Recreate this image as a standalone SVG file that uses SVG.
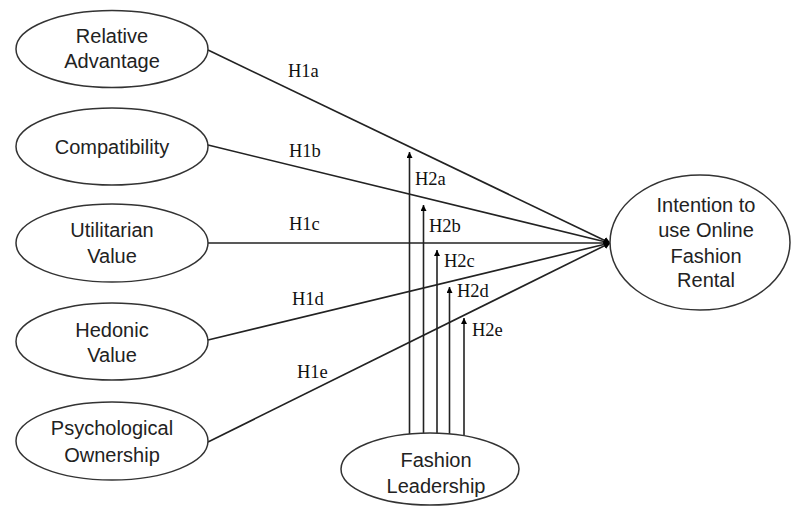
<svg xmlns="http://www.w3.org/2000/svg" width="791" height="507" viewBox="0 0 791 507">
<defs>
<marker id="ah" viewBox="0 0 10 10" refX="9" refY="5" markerWidth="7" markerHeight="7" markerUnits="userSpaceOnUse" orient="auto">
<path d="M0,0 L10,5 L0,10 z" fill="#000"/>
</marker>
<marker id="av" viewBox="0 0 10 10" refX="10" refY="5" markerWidth="7" markerHeight="6" markerUnits="userSpaceOnUse" orient="auto">
<path d="M0,0 L10,5 L0,10 z" fill="#000"/>
</marker>
</defs>
<style>
.n{fill:#fff;stroke:#333;stroke-width:1.5}
.t{font-family:"Liberation Sans",Arial,sans-serif;font-size:20px;fill:#222;text-anchor:middle}
.l{font-family:"Liberation Serif","Times New Roman",serif;font-size:18.5px;fill:#111}
.c{stroke:#222;stroke-width:1.6;fill:none}
</style>
<rect width="791" height="507" fill="#fff"/>
<g id="connectors">
<line class="c" x1="208" y1="50" x2="610" y2="243" marker-end="url(#ah)"/>
<line class="c" x1="208" y1="145" x2="610" y2="243" marker-end="url(#ah)"/>
<line class="c" x1="208" y1="243" x2="610" y2="243" marker-end="url(#ah)"/>
<line class="c" x1="208" y1="340" x2="610" y2="243" marker-end="url(#ah)"/>
<line class="c" x1="208" y1="442" x2="610" y2="243" marker-end="url(#ah)"/>
<line class="c" x1="409.5" y1="435" x2="409.5" y2="152" marker-end="url(#av)"/>
<line class="c" x1="423.5" y1="435" x2="423.5" y2="205" marker-end="url(#av)"/>
<line class="c" x1="437" y1="434" x2="437" y2="250" marker-end="url(#av)"/>
<line class="c" x1="449.5" y1="434" x2="449.5" y2="287" marker-end="url(#av)"/>
<line class="c" x1="464" y1="435" x2="464" y2="318" marker-end="url(#av)"/>
<text class="l" x="288" y="77">H1a</text>
<text class="l" x="289" y="157">H1b</text>
<text class="l" x="289" y="230">H1c</text>
<text class="l" x="292" y="305">H1d</text>
<text class="l" x="297" y="378">H1e</text>
<text class="l" x="415" y="185">H2a</text>
<text class="l" x="429" y="232">H2b</text>
<text class="l" x="444" y="267">H2c</text>
<text class="l" x="457" y="297">H2d</text>
<text class="l" x="472" y="336">H2e</text>
</g>
<g id="relative-advantage">
<ellipse class="n" cx="112" cy="49" rx="96" ry="38.5"/>
<text class="t" x="112" y="43">Relative</text>
<text class="t" x="112" y="68">Advantage</text>
</g>
<g id="compatibility">
<ellipse class="n" cx="112" cy="146.5" rx="96" ry="38.5"/>
<text class="t" x="112" y="154">Compatibility</text>
</g>
<g id="utilitarian-value">
<ellipse class="n" cx="112" cy="243" rx="96" ry="39"/>
<text class="t" x="112" y="237">Utilitarian</text>
<text class="t" x="112" y="263">Value</text>
</g>
<g id="hedonic-value">
<ellipse class="n" cx="112" cy="341.5" rx="96" ry="38.5"/>
<text class="t" x="112" y="337">Hedonic</text>
<text class="t" x="112" y="362">Value</text>
</g>
<g id="psychological-ownership">
<ellipse class="n" cx="112" cy="441" rx="96" ry="39"/>
<text class="t" x="112" y="435">Psychological</text>
<text class="t" x="112" y="462">Ownership</text>
</g>
<g id="intention">
<ellipse class="n" cx="700" cy="242.5" rx="90" ry="67.5"/>
<text class="t" x="706" y="212">Intention to</text>
<text class="t" x="706" y="237">use Online</text>
<text class="t" x="706" y="263">Fashion</text>
<text class="t" x="706" y="287">Rental</text>
</g>
<g id="fashion-leadership">
<ellipse class="n" cx="430" cy="469" rx="89" ry="36"/>
<text class="t" x="436" y="467">Fashion</text>
<text class="t" x="436" y="493">Leadership</text>
</g>
</svg>
